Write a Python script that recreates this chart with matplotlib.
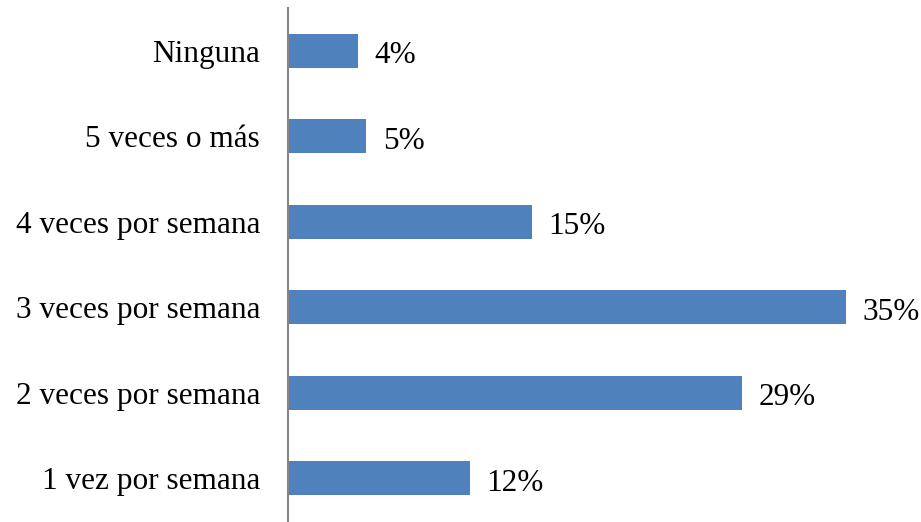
import matplotlib
matplotlib.use("Agg")
import matplotlib.pyplot as plt

categories = ["1 vez por semana", "2 veces por semana", "3 veces por semana",
              "4 veces por semana", "5 veces o más", "Ninguna"]
values = [11.4, 28.5, 35.0, 15.3, 4.9, 4.4]
labels = ["12%", "29%", "35%", "15%", "5%", "4%"]

plt.rcParams['font.family'] = ['Liberation Serif', 'DejaVu Serif']

W, H = 921, 522
fig = plt.figure(figsize=(W / 100, H / 100), dpi=100)
ax = fig.add_axes([288 / W, 1 - 521 / H, (900 - 288) / W, (521 - 8) / H])

y = list(range(len(categories)))
ax.barh(y, values, height=0.4, color="#4F81BD", zorder=2)
ax.set_ylim(-0.5, len(categories) - 0.5)
ax.set_xlim(0, (900 - 288) / 15.94)

for yi, v, lab in zip(y, values, labels):
    ax.annotate(lab, (v, yi), xytext=(12, -3.5), textcoords="offset points",
                va="center", ha="left", fontsize=22.5, color="black")

ax.set_yticks(y)
ax.set_yticklabels(categories, fontsize=22.5)
ax.tick_params(axis="y", length=0, pad=20)
ax.set_xticks([])
for s in ["top", "right", "bottom"]:
    ax.spines[s].set_visible(False)
ax.spines["left"].set_color("#868686")
ax.spines["left"].set_linewidth(1.5)

fig.savefig("out.png", dpi=100)
